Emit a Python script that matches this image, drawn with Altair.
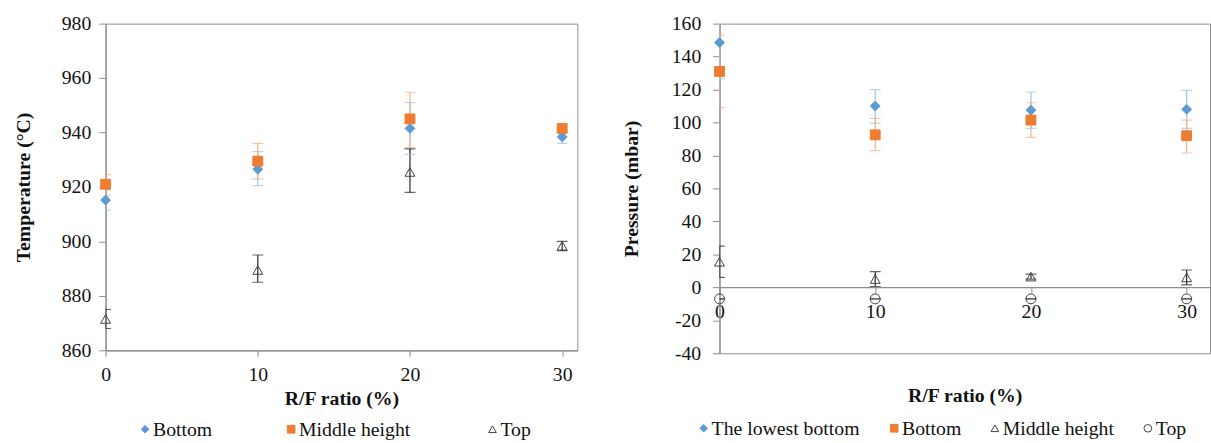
import altair as alt
import pandas as pd

FONT = "Liberation Serif"

ratio = [0, 10, 20, 30]

# Left chart: temperature (°C)
t_series = ["Bottom", "Middle height", "Top"]
t_bottom = [915.2, 926.5, 941.5, 938.4]
t_bottom_lo = [911.5, 920.5, 932.0, 936.0]
t_bottom_hi = [919.0, 933.0, 951.0, 941.0]
t_middle = [921.0, 929.5, 945.0, 941.5]
t_middle_lo = [917.0, 923.0, 934.5, 940.2]
t_middle_hi = [924.5, 936.0, 954.8, 943.3]
t_top = [871.5, 889.5, 925.5, 898.4]
t_top_lo = [868.0, 885.0, 918.0, 896.6]
t_top_hi = [875.0, 895.0, 934.0, 900.0]

# Right chart: pressure (mbar)
p_series = ["The lowest bottom", "Bottom", "Middle height", "Top"]
p_lowest = [148.5, 110.0, 107.5, 108.0]
p_lowest_lo = [126.5, 99.5, 96.5, 96.5]
p_lowest_hi = [170.5, 120.0, 118.5, 119.5]
p_bottom = [131.0, 92.5, 101.5, 92.0]
p_bottom_lo = [109.0, 83.0, 91.0, 81.5]
p_bottom_hi = [153.0, 102.5, 112.0, 101.5]
p_middle = [15.5, 5.0, 6.5, 6.0]
p_middle_lo = [6.0, 0.5, 5.0, 1.5]
p_middle_hi = [25.0, 9.5, 8.0, 10.5]
p_top = [-7.0, -7.0, -7.0, -7.0]
p_top_lo = [-7.0, -7.0, -7.0, -7.0]
p_top_hi = [-7.0, -7.0, -7.0, -7.0]


def frame(names, groups):
    rows = []
    for name, (vals, lo, hi) in zip(names, groups):
        for x, v, l, h in zip(ratio, vals, lo, hi):
            rows.append({"ratio": x, "series": name, "errseries": name,
                         "value": v, "lo": l, "hi": h})
    return pd.DataFrame(rows)


t_df = frame(t_series, [(t_bottom, t_bottom_lo, t_bottom_hi),
                        (t_middle, t_middle_lo, t_middle_hi),
                        (t_top, t_top_lo, t_top_hi)])
p_df = frame(p_series, [(p_lowest, p_lowest_lo, p_lowest_hi),
                        (p_bottom, p_bottom_lo, p_bottom_hi),
                        (p_middle, p_middle_lo, p_middle_hi),
                        (p_top, p_top_lo, p_top_hi)])

BLUE, ORANGE, DARK = "#5B9BD5", "#ED7D31", "#404040"
BLUE_L, ORANGE_L, DARK_E = "#9DC3E6", "#F4B183", "#262626"


def legend_layers(names, fills, strokes, shapes, xs, ly):
    layers = []
    for name, f, s, sh, lx in zip(names, fills, strokes, shapes, xs):
        src = alt.Chart(pd.DataFrame({"series": [name]}))
        sym = src.mark_point(shape=sh, fill=f, stroke=s, strokeWidth=1, size=60,
                             opacity=1).encode(x=alt.value(lx), y=alt.value(ly))
        txt = src.mark_text(align="left", baseline="middle", font=FONT, fontSize=20,
                            fill="#111").encode(x=alt.value(lx + 8), y=alt.value(ly + 1),
                                                text="series:N")
        layers += [sym, txt]
    return layers


def panel(df, names, fills, strokes, shapes, errcols, ydom, yvals, ytitle,
          xdom, width, height, xaxis_offset, xtitle_pad, x_label_pad, ytitle_pad, label_pad,
          legend_xs, legend_y):
    xaxis = alt.Axis(values=ratio, title="R/F ratio (%)", grid=False,
                     offset=xaxis_offset, titlePadding=xtitle_pad,
                     labelPadding=x_label_pad, tickSize=6, labelFlush=False,
                     labelOverlap=False)
    xscale = alt.Scale(domain=xdom, nice=False, zero=False)
    x = alt.X("ratio:Q", scale=xscale, axis=xaxis)
    yscale = alt.Scale(domain=ydom, nice=False, zero=False)
    yaxis = alt.Axis(values=yvals, title=ytitle, grid=False,
                     titlePadding=ytitle_pad, labelPadding=label_pad,
                     tickSize=7, labelExpr="'' + datum.value",
                     labelOverlap=False, labelFlush=False, tickCount=len(yvals))
    y = alt.Y("value:Q", scale=yscale, axis=yaxis)
    ylo = alt.Y("lo:Q", scale=yscale, axis=yaxis)
    yhi = alt.Y("hi:Q", scale=yscale, axis=yaxis)
    ecolor = alt.Color("errseries:N", scale=alt.Scale(domain=names, range=errcols), legend=None)
    base = alt.Chart(df)
    rules = base.mark_rule(strokeWidth=1.2, clip=True).encode(
        x=x, y=ylo, y2="hi:Q", color=ecolor)
    cap_lo = base.mark_tick(orient="horizontal", size=11, thickness=1.2, clip=True).encode(
        x=x, y=ylo, color=ecolor)
    cap_hi = base.mark_tick(orient="horizontal", size=11, thickness=1.2, clip=True).encode(
        x=x, y=yhi, color=ecolor)
    pts = base.mark_point(strokeWidth=1, opacity=1, size=100).encode(
        x=x, y=y,
        fill=alt.Fill("series:N", scale=alt.Scale(domain=names, range=fills), legend=None),
        stroke=alt.Stroke("series:N", scale=alt.Scale(domain=names, range=strokes), legend=None),
        shape=alt.Shape("series:N", scale=alt.Scale(domain=names, range=shapes), legend=None),
    )
    leg = legend_layers(names, fills, strokes, shapes, legend_xs, legend_y)
    return alt.layer(rules, cap_lo, cap_hi, pts, *leg).properties(width=width, height=height)


left = panel(t_df, t_series,
             [BLUE, ORANGE, "transparent"], [BLUE, ORANGE, DARK],
             ["diamond", "square", "triangle-up"], [BLUE_L, ORANGE_L, DARK_E],
             [860, 980], [860, 880, 900, 920, 940, 960, 980], "Temperature (°C)",
             [0, 31], 478, 331, 0, 4, 9, 28, 8, [40, 188, 392], 411)

right = panel(p_df, p_series,
              [BLUE, ORANGE, "transparent", "transparent"], [BLUE, ORANGE, DARK, DARK],
              ["diamond", "square", "triangle-up", "circle"], [BLUE_L, ORANGE_L, DARK_E, DARK],
              [-40, 160], [-40, -20, 0, 20, 40, 60, 80, 100, 120, 140, 160], "Pressure (mbar)",
              [0, 31.5], 497, 334, -67, 65, 9, 30, 12, [-16, 177, 279, 434], 410)

chart = alt.hconcat(left, right, spacing=43).resolve_scale(
    color="independent", fill="independent", stroke="independent",
    shape="independent"
).properties(
    padding={"left": 13, "top": 10, "right": 0, "bottom": 0},
    background="white",
).configure_view(stroke="#8c8c8c", strokeWidth=1).configure_axis(
    labelFont=FONT, labelFontSize=20, labelColor="#111",
    titleFont=FONT, titleFontSize=20, titleFontWeight="bold", titleColor="#111",
    domainColor="#8c8c8c", tickColor="#8c8c8c", domainWidth=1.2
).configure_text(font=FONT, fontSize=20)

chart.save("out.html", embed_options={"renderer": "svg", "actions": False})
